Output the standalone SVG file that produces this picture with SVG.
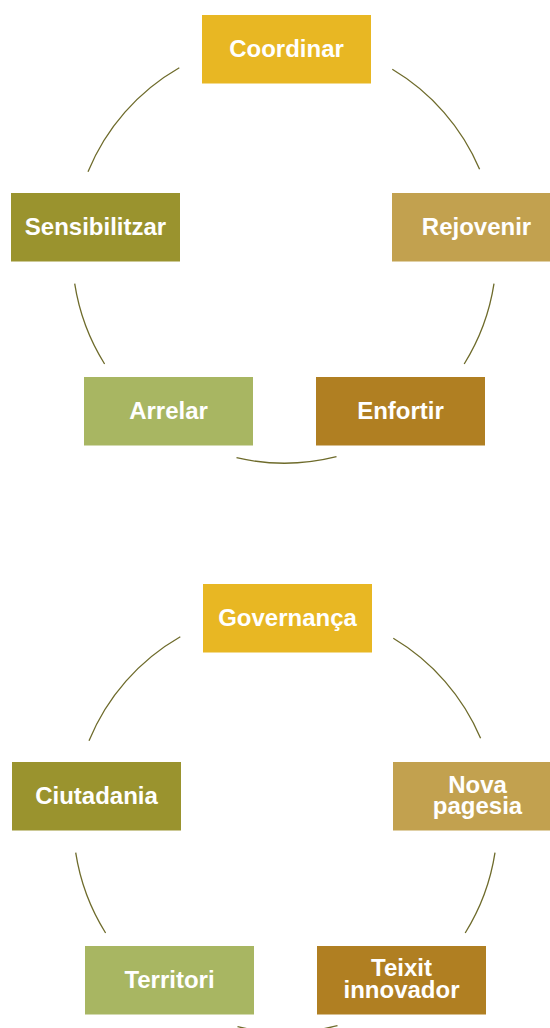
<svg xmlns="http://www.w3.org/2000/svg" width="550" height="1028" viewBox="0 0 550 1028">
<style>
.lbl{font-family:"Liberation Sans",Arial,Helvetica,sans-serif;font-weight:bold;font-size:24px;fill:#ffffff;text-anchor:middle}
.arc{fill:none;stroke:#6e6b2b;stroke-width:1.3}
.c1{fill:#E8B723}.c2{fill:#C2A14F}.c3{fill:#9A932E}.c4{fill:#A8B662}.c5{fill:#B07F22}
</style>
<rect width="550" height="1028" fill="#ffffff"/>
<g id="connectors">
<path class="arc" d="M392.3,69.3 A213,213 0 0,1 479.6,169.3"/>
<path class="arc" d="M494,283.7 A213,213 0 0,1 464.2,364"/>
<path class="arc" d="M336.5,456.7 A213,213 0 0,1 236.5,457.7"/>
<path class="arc" d="M104.6,364 A213,213 0 0,1 74.7,283.7"/>
<path class="arc" d="M88,171.7 A213,213 0 0,1 179.3,67.7"/>
<path class="arc" d="M393.3,638.3 A213,213 0 0,1 480.6,738.3"/>
<path class="arc" d="M495,852.7 A213,213 0 0,1 465.2,933"/>
<path class="arc" d="M337.5,1025.7 A213,213 0 0,1 237.5,1026.7"/>
<path class="arc" d="M105.6,933 A213,213 0 0,1 75.7,852.7"/>
<path class="arc" d="M89,740.7 A213,213 0 0,1 180.3,636.7"/>
</g>
<g id="coordinar"><rect class="c1" x="202" y="15" width="169" height="68.5"/><text class="lbl" x="286.5" y="57">Coordinar</text></g>
<g id="rejovenir"><rect class="c2" x="392" y="193" width="169" height="68.5"/><text class="lbl" x="476.5" y="235">Rejovenir</text></g>
<g id="sensibilitzar"><rect class="c3" x="11" y="193" width="169" height="68.5"/><text class="lbl" x="95.5" y="235">Sensibilitzar</text></g>
<g id="arrelar"><rect class="c4" x="84" y="377" width="169" height="68.5"/><text class="lbl" x="168.5" y="419">Arrelar</text></g>
<g id="enfortir"><rect class="c5" x="316" y="377" width="169" height="68.5"/><text class="lbl" x="400.5" y="419">Enfortir</text></g>
<g id="governanca"><rect class="c1" x="203" y="584" width="169" height="68.5"/><text class="lbl" x="287.5" y="626">Governança</text></g>
<g id="nova-pagesia"><rect class="c2" x="393" y="762" width="169" height="68.5"/><text class="lbl" x="477.5" y="792.5">Nova<tspan x="477.5" dy="21.5">pagesia</tspan></text></g>
<g id="ciutadania"><rect class="c3" x="12" y="762" width="169" height="68.5"/><text class="lbl" x="96.5" y="804">Ciutadania</text></g>
<g id="territori"><rect class="c4" x="85" y="946" width="169" height="68.5"/><text class="lbl" x="169.5" y="988">Territori</text></g>
<g id="teixit-innovador"><rect class="c5" x="317" y="946" width="169" height="68.5"/><text class="lbl" x="401.5" y="976">Teixit<tspan x="401.5" dy="21.5">innovador</tspan></text></g>
</svg>
